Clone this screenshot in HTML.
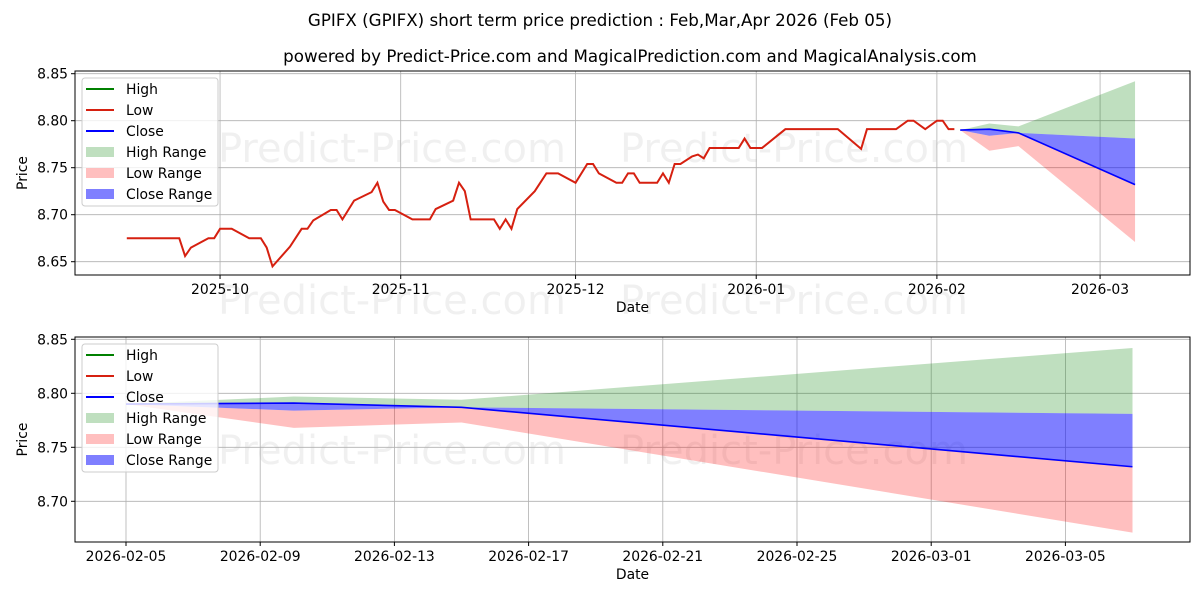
<!DOCTYPE html>
<html><head><meta charset="utf-8"><style>
body{margin:0;background:#fff;}
svg{display:block;font-family:"DejaVu Sans","Liberation Sans",sans-serif;}
</style></head><body>
<svg id="c" width="1200" height="600" xmlns="http://www.w3.org/2000/svg">
<text x="600" y="26" text-anchor="middle" font-size="16.7">GPIFX (GPIFX) short term price prediction : Feb,Mar,Apr 2026 (Feb 05)</text>
<text x="630" y="62" text-anchor="middle" font-size="16.7">powered by Predict-Price.com and MagicalPrediction.com and MagicalAnalysis.com</text>
</svg>
<script>
// historical Low series: day offsets from 2025-09-15 and values
const histDays=[0,9,10,11,14,15,16,18,21,23,24,25,28,30,31,32,35,36,37,39,42,43,44,45,46,49,52,53,56,57,58,59,63,64,65,66,67,70,72,74,77,79,80,81,84,85,86,87,88,91,92,93,94,95,97,98,99,100,105,106,107,109,111,113,122,126,127,132,134,135,137,139,140,141,142];
const histVals=[8.675,8.675,8.656,8.665,8.675,8.675,8.685,8.685,8.675,8.675,8.665,8.645,8.666,8.685,8.685,8.694,8.705,8.705,8.695,8.715,8.724,8.734,8.714,8.705,8.705,8.695,8.695,8.706,8.715,8.734,8.725,8.695,8.695,8.685,8.695,8.685,8.706,8.725,8.744,8.744,8.734,8.754,8.754,8.744,8.734,8.734,8.744,8.744,8.734,8.734,8.744,8.734,8.754,8.754,8.762,8.764,8.760,8.771,8.771,8.781,8.771,8.771,8.781,8.791,8.791,8.770,8.791,8.791,8.80,8.80,8.791,8.80,8.80,8.791,8.791];
// forecast: day offsets from 2025-09-15 (Feb05, Feb10, Feb15, Mar07)
const fcDays=[143,148,153,173];
const fcClose=[8.790,8.791,8.787,8.732];
const highUpper=[8.790,8.797,8.794,8.842];
const highLower=[8.790,8.791,8.787,8.781];
const lowUpper=[8.790,8.784,8.787,8.732];
const lowLower=[8.790,8.768,8.773,8.671];
const closeUpper=[8.790,8.791,8.787,8.781];
const closeLower=[8.790,8.784,8.787,8.732];
const topYTicks=[8.65,8.70,8.75,8.80,8.85];
const botYTicks=[8.70,8.75,8.80,8.85];
const topXTickDays=[16,47,77,108,139,167];
const topXTickLabels=['2025-10','2025-11','2025-12','2026-01','2026-02','2026-03'];
const botXTickDays=[143,147,151,155,159,163,167,171];
const botXTickLabels=['2026-02-05','2026-02-09','2026-02-13','2026-02-17','2026-02-21','2026-02-25','2026-03-01','2026-03-05'];

const svg=document.getElementById('c');
const NS='http://www.w3.org/2000/svg';
function mk(tag,attrs,parent){const e=document.createElementNS(NS,tag);for(const k in attrs)e.setAttribute(k,attrs[k]);(parent||svg).appendChild(e);return e;}

function panel(p){
  const g=mk('g',{});
  
  
  const X=d=>p.x0+(d-p.d0)*p.dx, Y=v=>p.y0-(v-p.v0)*p.vy;
  p.wm.forEach(w=>{const t=mk('text',{x:w[0],y:w[1],'font-size':40,fill:'#000','fill-opacity':0.06},g);t.textContent='Predict-Price.com';
    });
  p.yt.forEach(v=>{const l=mk('line',{x1:p.L,x2:p.R,y1:Y(v),y2:Y(v),stroke:'#b0b0b0','stroke-width':0.8},g);
    
    mk('line',{x1:p.L-4,x2:p.L,y1:Y(v),y2:Y(v),stroke:'#000'},g);
    const t=mk('text',{x:p.L-7,y:Y(v)+5,'text-anchor':'end','font-size':13.9},g);t.textContent=v.toFixed(2);
    });
  p.xt.forEach((d,i)=>{const l=mk('line',{x1:X(d),x2:X(d),y1:p.T,y2:p.B,stroke:'#b0b0b0','stroke-width':0.8},g);
    
    mk('line',{x1:X(d),x2:X(d),y1:p.B,y2:p.B+4,stroke:'#000'},g);
    const t=mk('text',{x:X(d),y:p.B+19,'text-anchor':'middle','font-size':13.9},g);t.textContent=p.xl[i];
    });
  function band(up,lo,col,op,name){let s='';fcDays.forEach((d,i)=>s+=(i?'L':'M')+X(d)+','+Y(up[i]));
    for(let i=fcDays.length-1;i>=0;i--)s+='L'+X(fcDays[i])+','+Y(lo[i]);
    const e=mk('path',{d:s+'Z',fill:col,'fill-opacity':op},g);}
  band(highUpper,highLower,'#008000',0.25,'high-range-band');
  band(lowUpper,lowLower,'#ff0000',0.25,'low-range-band');
  band(closeUpper,closeLower,'#0000ff',0.5,'close-range-band');
  if(p.hist){const e=mk('polyline',{points:histDays.map((d,i)=>X(d)+','+Y(histVals[i])).join(' '),fill:'none',stroke:'#d62010','stroke-width':2},g);
    }
  const c=mk('polyline',{points:fcDays.map((d,i)=>X(d)+','+Y(fcClose[i])).join(' '),fill:'none',stroke:'#0000ff','stroke-width':1.6},g);
  
  mk('rect',{x:p.L,y:p.T,width:p.R-p.L,height:p.B-p.T,fill:'none',stroke:'#000','stroke-width':1},g);
  const lg=mk('g',{},g);
  mk('rect',{x:82,y:p.T+7,width:136,height:128,rx:3,fill:'#fff','fill-opacity':0.8,stroke:'#ccc'},lg);
  const items=[['High','#008000',0],['Low','#d62010',0],['Close','#0000ff',0],['High Range','#008000',0.25],['Low Range','#ff0000',0.25],['Close Range','#0000ff',0.5]];
  items.forEach((it,i)=>{const y=p.T+18+i*21;
    if(it[2]===0)mk('line',{x1:86,x2:114,y1:y,y2:y,stroke:it[1],'stroke-width':2},lg);
    else mk('rect',{x:86,y:y-5,width:28,height:10,fill:it[1],'fill-opacity':it[2]},lg);
    const t=mk('text',{x:126,y:y+5,'font-size':13.9},lg);t.textContent=it[0];
    });
  const xl=mk('text',{x:(p.L+p.R)/2,y:p.B+37,'text-anchor':'middle','font-size':13.9},g);xl.textContent='Date';
  
  const yl=mk('text',{x:0,y:0,'text-anchor':'middle','font-size':13.9,transform:`translate(27,${(p.T+p.B)/2}) rotate(-90)`},g);yl.textContent='Price';
  
}
panel({name:'top-chart',L:75,R:1190,T:71,B:275,x0:126.8,d0:0,dx:5.828,y0:120.7,v0:8.80,vy:940,
  yt:topYTicks,xt:topXTickDays,xl:topXTickLabels,hist:true,wm:[[218,162],[620,162],[218,314],[620,314]]});
panel({name:'bottom-chart',L:75,R:1190,T:337,B:542,x0:126,d0:143,dx:33.55,y0:393.3,v0:8.80,vy:1080,
  yt:botYTicks,xt:botXTickDays,xl:botXTickLabels,hist:false,wm:[[218,464],[620,464]]});
</script>
</body></html>
